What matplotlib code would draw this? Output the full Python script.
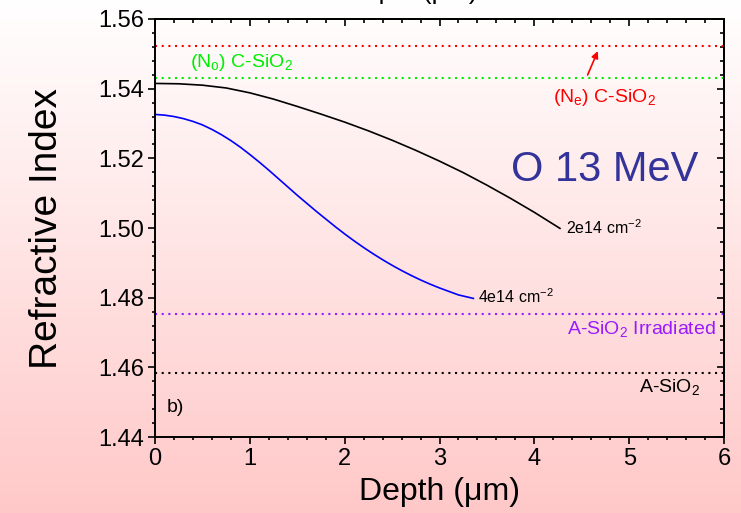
import numpy as np
import matplotlib
matplotlib.use("Agg")
import matplotlib.pyplot as plt
from matplotlib.ticker import MultipleLocator

plt.rcParams['font.family'] = ['Liberation Sans', 'DejaVu Sans']
plt.rcParams['mathtext.fontset'] = 'custom'
plt.rcParams['mathtext.rm'] = 'Liberation Sans'
plt.rcParams['mathtext.it'] = 'Liberation Sans:italic'

# index profiles after O 13 MeV irradiation
depth_2e14 = [0.0, 0.25, 0.5, 0.75, 1.0, 1.25, 1.5, 1.75, 2.0, 2.25, 2.5, 2.75,
              3.0, 3.25, 3.5, 3.75, 4.0, 4.27]
n_2e14 = [1.5415, 1.5414, 1.5410, 1.5402, 1.5388, 1.5370, 1.5349, 1.5327, 1.5304,
          1.5279, 1.5252, 1.5223, 1.5192, 1.5159, 1.5123, 1.5085, 1.5045, 1.4999]
depth_4e14 = [0.0, 0.1, 0.2, 0.3, 0.4, 0.5, 0.6, 0.7, 0.8, 0.9, 1.0, 1.1, 1.2, 1.3,
              1.4, 1.5, 1.6, 1.7, 1.8, 1.9, 2.0, 2.1, 2.2, 2.3, 2.4, 2.5, 2.6, 2.7,
              2.8, 2.9, 3.0, 3.1, 3.2, 3.357]
n_4e14 = [1.5326, 1.5324, 1.5320, 1.5314, 1.5306, 1.5296, 1.5283, 1.5268, 1.5251,
          1.5232, 1.5211, 1.5189, 1.5166, 1.5142, 1.5118, 1.5094, 1.5071, 1.5048,
          1.5026, 1.5004, 1.4983, 1.4963, 1.4944, 1.4926, 1.4909, 1.4893, 1.4878,
          1.4864, 1.4851, 1.4839, 1.4828, 1.4818, 1.4808, 1.4798]

# reference indices
n_e_cryst = 1.5522
n_o_cryst = 1.5431
n_amorph_irr = 1.4753
n_amorph = 1.4584

fig = plt.figure(figsize=(7.41, 5.13), dpi=100)

# white -> pink background
bg = fig.add_axes([0, 0, 1, 1], zorder=-10)
grad = np.linspace(0, 1, 256)[:, None]
top = np.array([1.0, 1.0, 1.0])
bot = np.array([1.0, 200 / 255, 200 / 255])
img = top[None, None, :] * (1 - grad[:, :, None]) + bot[None, None, :] * grad[:, :, None]
bg.imshow(img, aspect='auto', extent=[0, 1, 0, 1])
bg.axis('off')

ax = fig.add_axes([0.2092, 0.148, 0.7679, 0.815])
ax.patch.set_alpha(0)

ax.plot(depth_2e14, n_2e14, color='black', lw=1.2)
ax.plot(depth_4e14, n_4e14, color='#0000ff', lw=1.2)

dot = (0, (1, 2.2))
ax.axhline(n_e_cryst, color='#ff0000', lw=1.5, ls=dot)
ax.axhline(n_o_cryst, color='#00ee00', lw=1.5, ls=dot)
ax.axhline(n_amorph_irr, color='#9a1aff', lw=1.5, ls=dot)
ax.axhline(n_amorph, color='black', lw=1.5, ls=dot)

ax.text(0.37, 1.5475, r'(N$_\mathregular{o}$) C-SiO$_\mathregular{2}$', color='#00ee00',
        fontsize=14, va='center')
ax.text(4.2, 1.5374, r'(N$_\mathregular{e}$) C-SiO$_\mathregular{2}$', color='#ff0000',
        fontsize=14, va='center')
ax.annotate('', xy=(4.68, 1.5515), xytext=(4.55, 1.5432),
            arrowprops=dict(arrowstyle='-|>', color='#ff0000', lw=1.2, mutation_scale=10))
ax.text(3.75, 1.5166, 'O 13 MeV', color='#333399', fontsize=30, va='center')
ax.text(4.33, 1.5002, r'2e14 cm$^\mathregular{-2}$', fontsize=11.5, va='center')
ax.text(3.41, 1.4802, r'4e14 cm$^\mathregular{-2}$', fontsize=11.5, va='center')
ax.text(5.91, 1.4709, r'A-SiO$_\mathregular{2}$ Irradiated', color='#9a1aff',
        fontsize=14, va='center', ha='right')
ax.text(5.75, 1.4543, r'A-SiO$_\mathregular{2}$', fontsize=14, va='center', ha='right')
ax.text(0.12, 1.4484, 'b)', fontsize=14, va='center')

ax.set_xlim(0, 6)
ax.set_ylim(1.44, 1.56)
ax.xaxis.set_major_locator(MultipleLocator(1))
ax.xaxis.set_minor_locator(MultipleLocator(0.2))
ax.yaxis.set_major_locator(MultipleLocator(0.02))
ax.yaxis.set_minor_locator(MultipleLocator(0.004))
ax.yaxis.set_major_formatter(plt.FormatStrFormatter('%.2f'))

ax.tick_params(which='both', direction='out', top=False, right=False, width=1.2,
               labelsize=17, pad=3)
ax.tick_params(which='major', length=5)
ax.tick_params(which='minor', length=2.5)
for s in ax.spines.values():
    s.set_linewidth(1.4)

# inward ticks mirrored on top and right
for side in ('top', 'right'):
    sec = ax.secondary_xaxis('top') if side == 'top' else ax.secondary_yaxis('right')
    axis = sec.xaxis if side == 'top' else sec.yaxis
    axis.set_major_locator(MultipleLocator(1 if side == 'top' else 0.02))
    axis.set_minor_locator(MultipleLocator(0.2 if side == 'top' else 0.004))
    sec.tick_params(which='both', direction='in', width=1.2, labelsize=0,
                    labeltop=False, labelright=False)
    sec.tick_params(which='major', length=5)
    sec.tick_params(which='minor', length=3)
    for s in sec.spines.values():
        s.set_linewidth(1.4)

ax.set_xlabel('Depth (μm)', fontsize=23, labelpad=5)
ax.set_ylabel('Refractive Index', fontsize=28, labelpad=24)

# top axis title, mostly outside the canvas
fig.text(0.555, 0.993, 'Depth (μm)', fontsize=19, ha='center', va='bottom')

fig.savefig('out.png', dpi=100)
